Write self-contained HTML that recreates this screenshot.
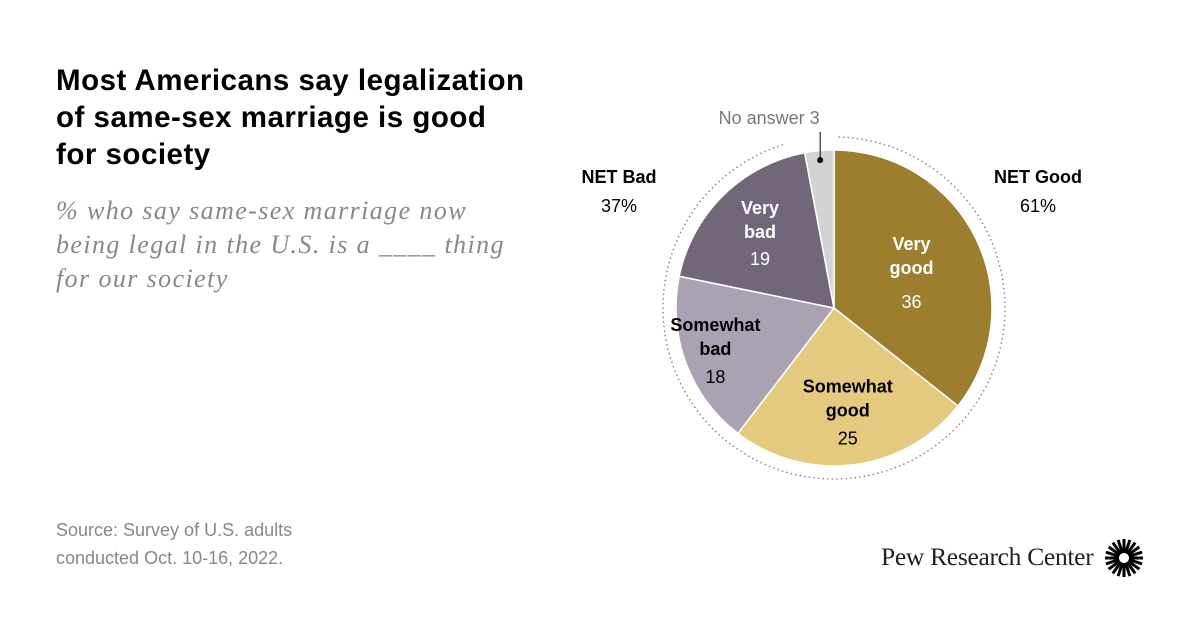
<!DOCTYPE html>
<html><head><meta charset="utf-8"><style>
body{margin:0;width:1200px;height:628px;background:#fff;font-family:"Liberation Sans",sans-serif;overflow:hidden;position:relative}
.t{position:absolute;margin:0}
</style></head><body>
<h1 class="t" style="left:56px;top:62px;font-size:29.5px;line-height:37px;font-weight:bold;color:#000;width:476px;letter-spacing:0.5px">Most Americans say legalization of same-sex marriage is good for society</h1>
<p class="t" style="left:56px;top:194px;font-size:26px;line-height:34px;font-style:italic;color:#888;font-family:'Liberation Serif',serif;width:470px;letter-spacing:1.4px">% who say same-sex marriage now being legal in the U.S. is a ____ thing for our society</p>
<p class="t" style="left:56px;top:516px;font-size:18px;line-height:28px;color:#888">Source: Survey of U.S. adults<br>conducted Oct. 10-16, 2022.</p>
<div class="t" style="left:881px;top:542px;font-family:'Liberation Serif',serif;font-size:25.5px;color:#222;letter-spacing:-0.3px">Pew Research Center</div>
<svg class="t" style="left:0;top:0" width="1200" height="628" id="svg">
<g id="logo"></g>
</svg>
<script>
const categories=["Very good","Somewhat good","Somewhat bad","Very bad","No answer"];
const values=[36,25,18,19,3];
const printed=["36","25","18","19","3"];
const colors=["#9c7e2e","#e4ca7f","#aaa2b1","#716778","#d3d3d5"];
const NS="http://www.w3.org/2000/svg";
const svg=document.getElementById('svg');
const cx=834,cy=308,r=158;
const total=values.reduce((a,b)=>a+b,0);
function pt(a,rr){return [cx+rr*Math.sin(a),cy-rr*Math.cos(a)];}
function mk(tag,attrs){const e=document.createElementNS(NS,tag);for(const k in attrs)e.setAttribute(k,attrs[k]);svg.appendChild(e);return e;}
const q0=pt(0.03,171),q1=pt(-0.3,171);
const ring=mk('path',{d:`M${q0[0]} ${q0[1]} A171 171 0 1 1 ${q1[0]} ${q1[1]}`,fill:'none',stroke:'#888','stroke-width':1.6,'stroke-dasharray':'0.1 4.5','stroke-linecap':'round'});


let acc=0;const mids=[];
values.forEach((v,i)=>{const a0=acc/total*2*Math.PI;acc+=v;const a1=acc/total*2*Math.PI;
const p0=pt(a0,r),p1=pt(a1,r);const large=(a1-a0)>Math.PI?1:0;
const s=mk('path',{d:`M${cx} ${cy}L${p0[0]} ${p0[1]}A${r} ${r} 0 ${large} 1 ${p1[0]} ${p1[1]}Z`,fill:colors[i],stroke:'#fff','stroke-width':1.5});


mids.push((a0+a1)/2);});
function txt(x,y,lines,fill,data){const t=mk('text',{x:x,y:y,'text-anchor':'middle','font-size':18,fill:fill,'font-family':'Liberation Sans, sans-serif'});


lines.forEach((l,j)=>{const s=document.createElementNS(NS,'tspan');s.setAttribute('x',x);s.setAttribute('dy',j?24:0);if(l[1])s.setAttribute('font-weight','bold');if(l[2])s.setAttribute('dy',l[2]);s.textContent=l[0];t.appendChild(s);});}
const lab=[[["Very",1],["good",1],[printed[0],0,34]],[["Somewhat",1],["good",1],[printed[1],0,28]],[["Somewhat",1],["bad",1],[printed[2],0,28]],[["Very",1],["bad",1],[printed[3],0,27]]];
const lr=[0.58,0.7,0.72,0.55];const lcol=["#fff","#000","#000","#fff"];const dys=[-18,-25,-17,-32];const dxs=[-5,0,-12,-13];
lab.forEach((l,i)=>{const p=pt(mids[i],r*lr[i]);txt(p[0]+dxs[i],p[1]+dys[i],l,lcol[i],'label-'+categories[i].toLowerCase().replace(/ /g,'-'));});
const pn=pt(mids[4],r*0.94);
mk('circle',{cx:pn[0],cy:pn[1],r:3,fill:'#000'});
mk('line',{x1:pn[0],y1:pn[1],x2:pn[0],y2:132,stroke:'#000','stroke-width':1});
txt(pn[0]-51,124,[[categories[4]+" "+printed[4],0]],'#777','label-no-answer');
txt(1038,183,[["NET Good",1],[String(values[0]+values[1])+"%",0,29]],'#000','net-good-label');
txt(619,183,[["NET Bad",1],[String(values[2]+values[3])+"%",0,29]],'#000','net-bad-label');
const g=document.getElementById('logo');
for(let k=0;k<20;k++){const a=k/20*2*Math.PI;const l=document.createElementNS(NS,'line');
l.setAttribute('x1',1124+5*Math.cos(a));l.setAttribute('y1',558+5*Math.sin(a));l.setAttribute('x2',1124+19*Math.cos(a));l.setAttribute('y2',558+19*Math.sin(a));l.setAttribute('stroke','#000');l.setAttribute('stroke-width',3);g.appendChild(l);}
</script>
</body></html>
